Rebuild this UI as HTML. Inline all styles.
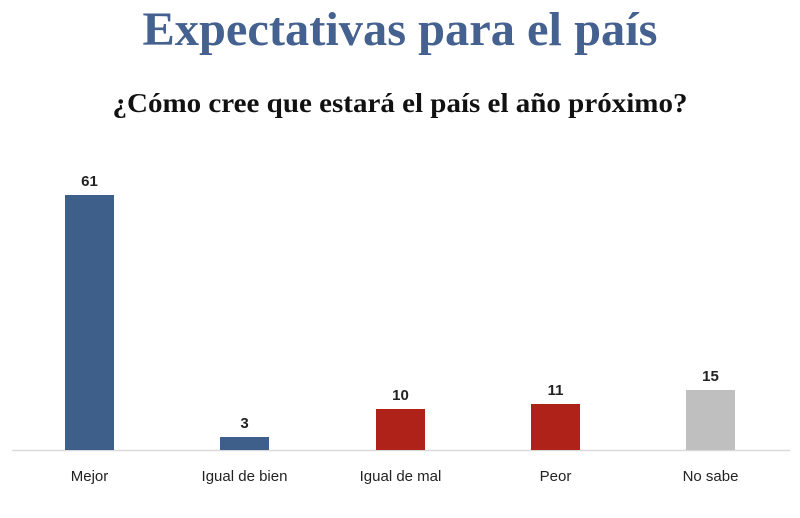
<!DOCTYPE html>
<html><head><meta charset="utf-8"><style>
body{margin:0;width:800px;height:513px;background:#fff;overflow:hidden}
</style></head><body>
<svg width="800" height="513" xmlns="http://www.w3.org/2000/svg">
<text x="400" y="45" text-anchor="middle" font-family="Liberation Serif, serif" font-weight="bold" font-size="48" fill="#44618f" textLength="515" lengthAdjust="spacingAndGlyphs">Expectativas para el país</text>
<text x="400" y="112" text-anchor="middle" font-family="Liberation Serif, serif" font-weight="bold" font-size="27" fill="#111" textLength="575" lengthAdjust="spacingAndGlyphs">¿Cómo cree que estará el país el año próximo?</text>
<line x1="12" y1="450.5" x2="790" y2="450.5" stroke="#d9d9d9" stroke-width="1.5"/>
<g font-family="Liberation Sans, sans-serif" font-weight="bold" font-size="15" fill="#222" text-anchor="middle">
<rect x="65" y="195" width="49" height="255" fill="#3f5f8b"/><text x="89.5" y="186">61</text>
<rect x="220" y="437" width="49" height="13" fill="#3f5f8b"/><text x="244.5" y="428">3</text>
<rect x="376" y="409" width="49" height="41" fill="#ae2219"/><text x="400.5" y="400">10</text>
<rect x="531" y="404" width="49" height="46" fill="#ae2219"/><text x="555.5" y="395">11</text>
<rect x="686" y="390" width="49" height="60" fill="#bfbfbf"/><text x="710.5" y="381">15</text>
</g>
<g font-family="Liberation Sans, sans-serif" font-size="15" fill="#222" text-anchor="middle">
<text x="89.5" y="481">Mejor</text>
<text x="244.5" y="481">Igual de bien</text>
<text x="400.5" y="481">Igual de mal</text>
<text x="555.5" y="481">Peor</text>
<text x="710.5" y="481">No sabe</text>
</g>
</svg>
</body></html>
